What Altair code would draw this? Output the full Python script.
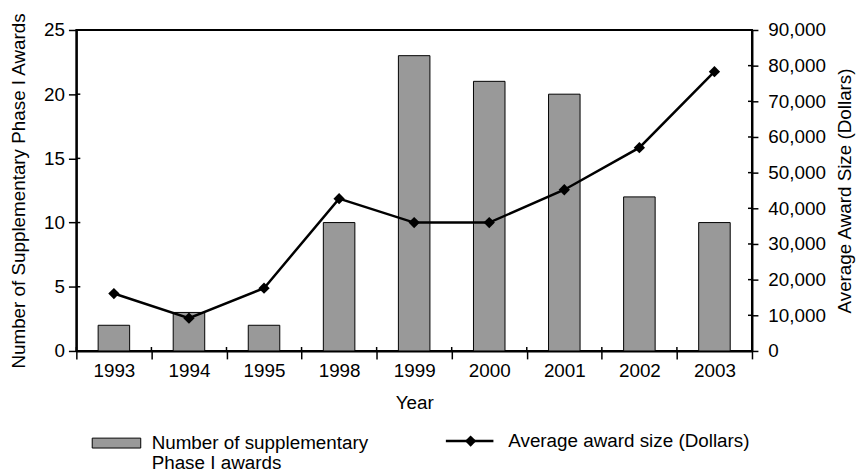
import altair as alt
import pandas as pd

years = ["1993", "1994", "1995", "1998", "1999", "2000", "2001", "2002", "2003"]
awards = [2, 3, 2, 10, 23, 21, 20, 12, 10]
avg_award = [16100, 9200, 17600, 42700, 36000, 36000, 45200, 57000, 78300]
left_ticks = [0, 5, 10, 15, 20, 25]
right_ticks = [0, 10000, 20000, 30000, 40000, 50000, 60000, 70000, 80000, 90000]

df = pd.DataFrame({"year": years, "awards": awards, "avg": avg_award})
lt = pd.DataFrame({"v": left_ticks})
rt = pd.DataFrame({"v": right_ticks})

W, H = 682, 324
FONT = "Liberation Sans"
FS = 19

xscale = alt.Scale(domain=years, paddingInner=0, paddingOuter=0)
lscale = alt.Scale(domain=[0, 25], nice=False)
rscale = alt.Scale(domain=[0, 90000], nice=False)
xaxis = alt.Axis(title="Year", tickBand="extent", tickSize=8, labelPadding=3,
                 titlePadding=13, labelAngle=0)


def xenc(**kw):
    return alt.X("year:N", scale=xscale, sort=years, axis=xaxis, **kw)


bars = alt.Chart(df).mark_bar(
    width=alt.RelativeBandSize(0.42), color="#999999", stroke="black", strokeWidth=1
).encode(
    x=xenc(),
    y=alt.Y("awards:Q", scale=lscale,
            axis=alt.Axis(orient="left", values=left_ticks, title="Number of Supplementary Phase I Awards",
                          tickSize=8, labelPadding=4, titlePadding=15)),
)

line = alt.Chart(df).mark_line(color="black", strokeWidth=2.5).encode(
    x=xenc(),
    y=alt.Y("avg:Q", scale=rscale,
            axis=alt.Axis(orient="right", values=right_ticks, format=",d",
                          title="Average Award Size (Dollars)", titleAngle=270, titleBaseline="top",
                          tickSize=6, labelPadding=10, titlePadding=10)),
)

pts = alt.Chart(df).mark_point(shape="diamond", filled=True, color="black", size=130, opacity=1).encode(
    x=xenc(),
    y=alt.Y("avg:Q", scale=rscale, axis=None),
)

xin = alt.Chart(df).mark_rule(color="black", strokeWidth=1.5).encode(
    x=xenc(bandPosition=0),
    y=alt.value(H - 4), y2=alt.value(H),
)
lin = alt.Chart(lt).mark_rule(color="black", strokeWidth=1.5).encode(
    y=alt.Y("v:Q", scale=lscale, axis=None),
    x=alt.value(0), x2=alt.value(4),
)
rin = alt.Chart(rt).mark_rule(color="black", strokeWidth=1.5).encode(
    y=alt.Y("v:Q", scale=rscale, axis=None),
    x=alt.value(W - 4), x2=alt.value(W),
)

# custom legend
leg_bar = alt.Chart(df.head(1)).mark_rect(color="#999999", stroke="black", strokeWidth=1).encode(
    x=alt.value(16), x2=alt.value(65), y=alt.value(412), y2=alt.value(422)
)
leg_t1 = alt.Chart(df.head(1)).mark_text(
    text=["Number of supplementary", "Phase I awards"], align="left", baseline="alphabetic",
    font=FONT, fontSize=FS, lineHeight=20, color="black"
).encode(x=alt.value(76), y=alt.value(423))
leg_line = alt.Chart(df.head(1)).mark_rule(color="black", strokeWidth=2.5).encode(
    x=alt.value(373), x2=alt.value(421), y=alt.value(415)
)
leg_pt = alt.Chart(df.head(1)).mark_point(shape="diamond", filled=True, color="black", size=130, opacity=1).encode(
    x=alt.value(398), y=alt.value(415)
)
leg_t2 = alt.Chart(df.head(1)).mark_text(
    text="Average award size (Dollars)", align="left", baseline="alphabetic",
    font=FONT, fontSize=FS, color="black"
).encode(x=alt.value(436), y=alt.value(421))

chart = alt.layer(
    bars, line, pts, xin, lin, rin, leg_bar, leg_t1, leg_line, leg_pt, leg_t2
).resolve_scale(y="independent").properties(
    width=W, height=H,
    autosize=alt.AutoSizeParams(type="none"),
    padding={"left": 69, "top": 20, "right": 105, "bottom": 121},
).configure_view(
    stroke="black", strokeWidth=2
).configure_axis(
    grid=False, labelFont=FONT, titleFont=FONT, labelFontSize=FS, titleFontSize=FS,
    titleFontWeight="normal", labelColor="black", titleColor="black",
    tickColor="black", domainColor="black", tickWidth=1.5, domainWidth=2,
)

chart.save("out.html", embed_options={"renderer": "svg", "actions": False})
